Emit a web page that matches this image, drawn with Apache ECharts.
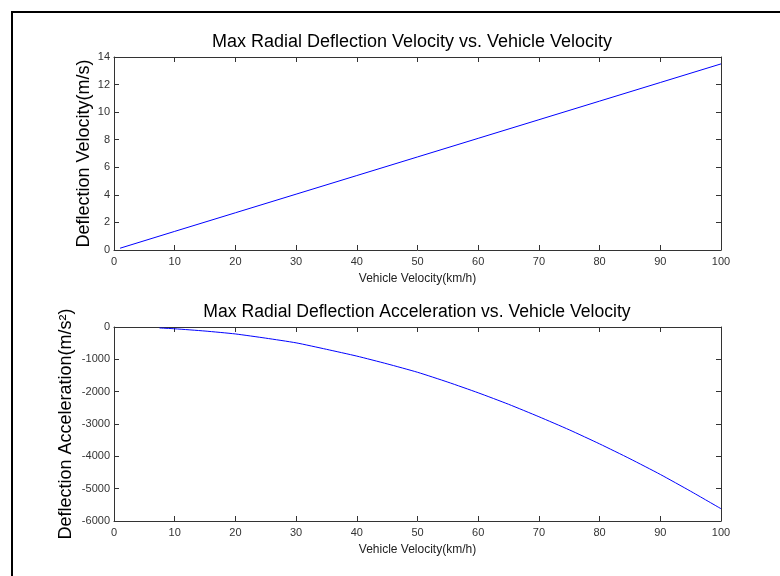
<!DOCTYPE html>
<html>
<head>
<meta charset="utf-8">
<script src="https://cdn.jsdelivr.net/npm/echarts@6/dist/echarts.min.js"></script>
<style>
  html, body { margin: 0; padding: 0; background: #fff; }
  #main { width: 780px; height: 576px; }
</style>
</head>
<body>
<div id="main"></div>
<script>
// vehicle speed (km/h) and values
var speedVel = [1, 10, 20, 30, 40, 50, 60, 70, 80, 90, 100];
var deflVelocity = [0.13, 1.35, 2.7, 4.05, 5.4, 6.75, 8.1, 9.45, 10.8, 12.15, 13.5];

var speedAcc = [7.5, 10, 15, 20, 25, 30, 35, 40, 45, 50, 55, 60, 65, 70, 75, 80, 85, 90, 95, 100];
var deflAccel = [-30, -55, -125, -215, -345, -490, -690, -900, -1140, -1400, -1705, -2035, -2390, -2775, -3180, -3615, -4075, -4560, -5080, -5620];

var xTicks = { min: 0, max: 100, interval: 10 };
var yVelTicks = { min: 0, max: 14, interval: 2 };
var yAccTicks = { min: -6000, max: 0, interval: 1000 };

var chart = echarts.init(document.getElementById('main'));

var font = 'Liberation Sans, Arial, sans-serif';
var axisCol = '#333';

function pairs(xs, ys) {
    var res = [];
    for (var i = 0; i < xs.length; i++) res.push([xs[i], ys[i]]);
    return res;
}

function xAx(grid, pos, show) {
    return {
        type: 'value', gridIndex: grid, position: pos,
        min: xTicks.min, max: xTicks.max, interval: xTicks.interval,
        name: show ? 'Vehicle Velocity(km/h)' : '',
        nameLocation: 'middle', nameGap: 23,
        nameTextStyle: { fontFamily: font, fontSize: 12, color: '#222' },
        axisLine: { show: true, onZero: false, lineStyle: { color: axisCol, width: 1 } },
        axisTick: { show: true, inside: true, length: 5, lineStyle: { color: axisCol } },
        axisLabel: { show: show, fontFamily: font, fontSize: 11, color: '#333', margin: 6,
                     formatter: function (v) { return String(v); } },
        splitLine: { show: false }
    };
}

function yAx(grid, pos, show, ticks, name, gap) {
    return {
        type: 'value', gridIndex: grid, position: pos,
        min: ticks.min, max: ticks.max, interval: ticks.interval,
        name: show ? name : '',
        nameLocation: 'middle', nameGap: gap, nameRotate: 90,
        nameMoveOverlap: false,
        nameTextStyle: { fontFamily: font, fontSize: 18, color: '#000' },
        axisLine: { show: true, onZero: false, lineStyle: { color: axisCol, width: 1 } },
        axisTick: { show: true, inside: true, length: 5, lineStyle: { color: axisCol } },
        axisLabel: { show: show, fontFamily: font, fontSize: 11, color: '#333', margin: 4,
                     formatter: function (v) { return String(v); } },
        splitLine: { show: false }
    };
}

var option = {
    backgroundColor: '#fff',
    animation: false,
    title: [
        { text: 'Max Radial Deflection Velocity vs. Vehicle Velocity', left: 407, top: 28, textAlign: 'center',
          textStyle: { fontFamily: font, fontSize: 18, fontWeight: 'normal', color: '#000' } },
        { text: 'Max Radial Deflection Acceleration vs. Vehicle Velocity', left: 412, top: 298, textAlign: 'center',
          textStyle: { fontFamily: font, fontSize: 17.6, fontWeight: 'normal', color: '#000' } }
    ],
    graphic: [{
        type: 'rect',
        shape: { x: 12, y: 12, width: 820, height: 620 },
        style: { fill: 'none', stroke: '#000', lineWidth: 2 }
    }],
    grid: [
        { left: 114, top: 57, right: 59, height: 193 },
        { left: 114, top: 327, right: 59, height: 194 }
    ],
    xAxis: [
        xAx(0, 'bottom', true), xAx(0, 'top', false),
        xAx(1, 'bottom', true), xAx(1, 'top', false)
    ],
    yAxis: [
        yAx(0, 'left', true, yVelTicks, 'Deflection Velocity(m/s)', 21),
        yAx(0, 'right', false, yVelTicks, '', 0),
        yAx(1, 'left', true, yAccTicks, 'Deflection Acceleration(m/s²)', 39),
        yAx(1, 'right', false, yAccTicks, '', 0)
    ],
    series: [
        { type: 'line', xAxisIndex: 0, yAxisIndex: 0, showSymbol: false,
          lineStyle: { color: '#0000ff', width: 1 }, data: pairs(speedVel, deflVelocity) },
        { type: 'line', xAxisIndex: 2, yAxisIndex: 2, showSymbol: false, smooth: 0.2,
          lineStyle: { color: '#0000ff', width: 1 }, data: pairs(speedAcc, deflAccel) }
    ]
};

chart.setOption(option);
</script>
</body>
</html>
